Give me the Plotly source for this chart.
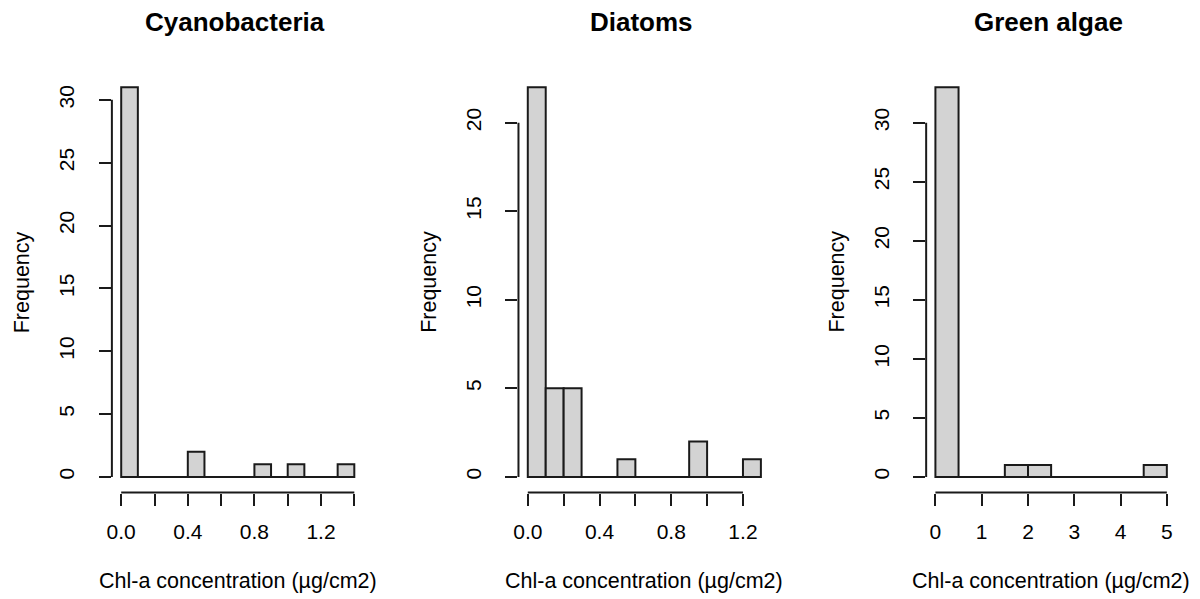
import plotly.graph_objects as go

# ---- data ----
panel_titles = ["Cyanobacteria", "Diatoms", "Green algae"]
x_title = "Chl-a concentration (µg/cm2)"
y_title = "Frequency"

cyano_start, cyano_width = 0.0, 0.1
cyano_counts = [31, 0, 0, 0, 2, 0, 0, 0, 1, 0, 1, 0, 0, 1]
cyano_xticks = [0.0, 0.2, 0.4, 0.6, 0.8, 1.0, 1.2, 1.4]
cyano_xlabels = ["0.0", "", "0.4", "", "0.8", "", "1.2", ""]
cyano_yticks = [0, 5, 10, 15, 20, 25, 30]

diatom_start, diatom_width = 0.0, 0.1
diatom_counts = [22, 5, 5, 0, 0, 1, 0, 0, 0, 2, 0, 0, 1]
diatom_xticks = [0.0, 0.2, 0.4, 0.6, 0.8, 1.0, 1.2]
diatom_xlabels = ["0.0", "", "0.4", "", "0.8", "", "1.2"]
diatom_yticks = [0, 5, 10, 15, 20]

green_start, green_width = 0.0, 0.5
green_counts = [33, 0, 0, 1, 1, 0, 0, 0, 0, 1]
green_xticks = [0, 1, 2, 3, 4, 5]
green_xlabels = ["0", "1", "2", "3", "4", "5"]
green_yticks = [0, 5, 10, 15, 20, 25, 30]

panels = [
    (cyano_start, cyano_width, cyano_counts, cyano_xticks, cyano_xlabels, cyano_yticks),
    (diatom_start, diatom_width, diatom_counts, diatom_xticks, diatom_xlabels, diatom_yticks),
    (green_start, green_width, green_counts, green_xticks, green_xlabels, green_yticks),
]

# ---- layout geometry (screen pixels of the 1200x599 window) ----
OFF = 8  # default page body margin in front of the plot div
W, H = 1200 - OFF, 599 - OFF
x_domains_px = [(107.3, 360.1), (515.6, 768.4), (925.0, 1176.0)]
y_top_px, y_bot_px = 71.7, 492.5
FONT = "Liberation Sans, Arial, sans-serif"
FILL = "#D3D3D3"
LINE = "#1a1a1a"
LW = 2


def px_x(v):
    return (v - OFF) / W


def px_y(v):
    return 1 - (v - OFF) / H


fig = go.Figure()
layout = dict(
    width=W, height=H,
    margin=dict(l=0, r=0, t=0, b=0),
    paper_bgcolor="white", plot_bgcolor="white",
    showlegend=False,
    font=dict(family=FONT, size=21, color="black"),
)
shapes = []
annotations = []

for i, (start, width, counts, xticks, xlabels, yticks) in enumerate(panels):
    n = i + 1
    xa = "x" if n == 1 else f"x{n}"
    ya = "y" if n == 1 else f"y{n}"
    edges = [start + width * k for k in range(len(counts) + 1)]
    centers = [start + width * (k + 0.5) for k in range(len(counts))]
    lo, hi = edges[0], edges[-1]
    ymax = max(counts)

    fig.add_trace(go.Bar(
        x=centers, y=counts, width=[width] * len(counts),
        marker=dict(color=FILL, line=dict(color=LINE, width=LW)),
        xaxis=xa, yaxis=ya, hoverinfo="x+y",
    ))
    # zero-height bins are drawn as a line along the baseline
    fig.add_trace(go.Scatter(
        x=[lo, hi], y=[0, 0], mode="lines",
        line=dict(color=LINE, width=LW),
        xaxis=xa, yaxis=ya, hoverinfo="skip",
    ))

    d0, d1 = x_domains_px[i]
    xkey = "xaxis" if n == 1 else f"xaxis{n}"
    ykey = "yaxis" if n == 1 else f"yaxis{n}"
    layout[xkey] = dict(
        domain=[px_x(d0), px_x(d1)],
        range=[lo - 0.04 * (hi - lo), hi + 0.04 * (hi - lo)],
        anchor=ya, showgrid=False, zeroline=False, showline=False,
        tickmode="array", tickvals=xticks, ticktext=xlabels,
        ticks="outside", ticklen=12, tickwidth=LW, tickcolor=LINE,
        ticklabelstandoff=8,
        tickfont=dict(family=FONT, size=21, color="black"),
        fixedrange=True,
    )
    layout[ykey] = dict(
        domain=[px_y(y_bot_px), px_y(y_top_px)],
        range=[-0.04 * ymax, 1.04 * ymax],
        anchor=xa, showgrid=False, zeroline=False, showline=False,
        tickmode="array", tickvals=yticks, ticktext=[str(v) for v in yticks],
        ticks="outside", ticklen=12, tickwidth=LW, tickcolor=LINE,
        tickangle=-90, ticklabelstandoff=16,
        tickfont=dict(family=FONT, size=21, color="black"),
        fixedrange=True,
    )
    # R-style axis lines that only span the tick range
    shapes.append(dict(type="line", xref=xa, yref=f"{ya} domain",
                       x0=xticks[0], x1=xticks[-1], y0=0, y1=0,
                       line=dict(color=LINE, width=LW)))
    shapes.append(dict(type="line", xref=f"{xa} domain", yref=ya,
                       x0=0, x1=0, y0=yticks[0], y1=yticks[-1],
                       line=dict(color=LINE, width=LW)))

    cx = px_x((d0 + d1) / 2)
    annotations.append(dict(text=f"<b>{panel_titles[i]}</b>", xref="paper", yref="paper",
                            x=px_x((d0 + d1) / 2 - 3), y=px_y(22), xanchor="center", yanchor="middle",
                            showarrow=False, font=dict(family=FONT, size=26, color="black")))
    annotations.append(dict(text=x_title, xref="paper", yref="paper",
                            x=cx, y=px_y(581), xanchor="center", yanchor="middle",
                            showarrow=False, font=dict(family=FONT, size=21.5, color="black")))
    annotations.append(dict(text=y_title, xref="paper", yref="paper",
                            x=px_x(d0 - 90), y=px_y(282), xanchor="center", yanchor="middle",
                            textangle=-90, showarrow=False,
                            font=dict(family=FONT, size=21.5, color="black")))

layout["shapes"] = shapes
layout["annotations"] = annotations
fig.update_layout(**layout)
fig.write_html("out.html")
